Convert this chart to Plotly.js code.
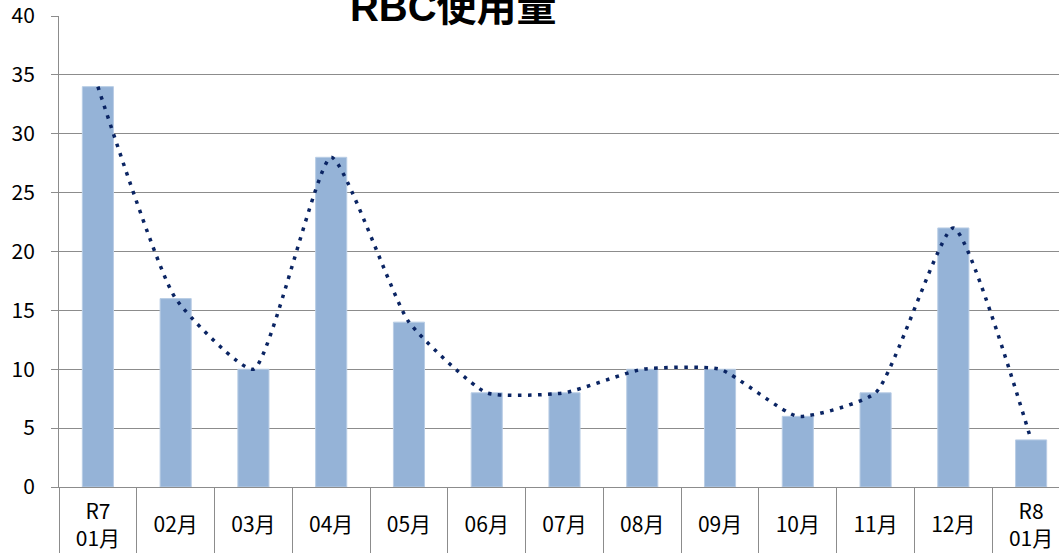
<!DOCTYPE html>
<html>
<head>
<meta charset="utf-8">
<script src="https://cdn.plot.ly/plotly-3.0.1.min.js"></script>
<style>
html,body{margin:0;padding:0;overflow:hidden;background:#fff;width:1059px;height:553px;}
#chart{width:1080px;height:553px;}
</style>
</head>
<body>
<div id="chart"></div>
<script>
const categories = ['R7 01月','02月','03月','04月','05月','06月','07月','08月','09月','10月','11月','12月','R8 01月'];
const values = [34,16,10,28,14,8,8,10,10,6,8,22,4];
const monthTickCats = ['02月','03月','04月','05月','06月','07月','08月','09月','10月','11月','12月'];
const yearTickCats = ['R7 01月','R8 01月'];
const yearLabels = ['R7<br>01月','R8<br>01月'];
const yTicks = [0,5,10,15,20,25,30,35,40];

const tickFont = {family:'Noto Sans CJK JP, Noto Sans, sans-serif', size:21, color:'#000'};
const gridCol = '#8c8c8c';

const traces = [
  {
    type:'bar', x:categories, y:values, xaxis:'x', yaxis:'y',
    width:0.4,
    marker:{color:'#95b3d7', line:{color:'#b9cde5', width:1}},
    hoverinfo:'skip', showlegend:false
  },
  {
    type:'scatter', mode:'lines', x:categories, y:values, xaxis:'x2', yaxis:'y',
    line:{shape:'spline', smoothing:0.5, color:'#0a2463', width:3.5, dash:'3.5px,6.5px'},
    hoverinfo:'skip', showlegend:false
  },
  {
    /* invisible helper so the year-label axis is drawn */
    type:'scatter', mode:'none', x:categories, y:values, xaxis:'x3', yaxis:'y',
    hoverinfo:'skip', showlegend:false
  }
];

const layout = {
  width:1080, height:553,
  margin:{l:59, r:10, t:16, b:66, pad:0},
  paper_bgcolor:'#fff', plot_bgcolor:'#fff',
  showlegend:false,
  bargap:0.6,
  title:{
    text:'<b>RBC使用量</b>',
    font:{family:'Liberation Sans, Noto Sans CJK JP, sans-serif', size:40, color:'#000'},
    xref:'paper', x:0.39, xanchor:'center',
    yref:'container', y:0.987, yanchor:'middle'
  },
  xaxis:{
    type:'category', categoryorder:'array', categoryarray:categories,
    range:[-0.5, 12.5], fixedrange:true,
    tickson:'boundaries', ticks:'outside', ticklen:70, tickwidth:1, tickcolor:gridCol,
    showline:true, linecolor:gridCol, linewidth:1,
    showgrid:false, zeroline:false, showticklabels:false
  },
  xaxis2:{
    type:'category', categoryorder:'array', categoryarray:categories,
    overlaying:'x', anchor:'y', side:'bottom',
    range:[-0.5, 12.5], fixedrange:true,
    tickmode:'array', tickvals:monthTickCats, ticktext:monthTickCats,
    ticks:'', showline:false, showgrid:false, zeroline:false,
    tickfont:tickFont, ticklabelstandoff:23
  },
  xaxis3:{
    type:'category', categoryorder:'array', categoryarray:categories,
    overlaying:'x', anchor:'y', side:'bottom',
    range:[-0.5, 12.5], fixedrange:true,
    tickmode:'array', tickvals:yearTickCats, ticktext:yearLabels,
    ticks:'', showline:false, showgrid:false, zeroline:false,
    tickfont:tickFont, ticklabelstandoff:10
  },
  yaxis:{
    range:[0,40], fixedrange:true,
    tickmode:'array', tickvals:yTicks,
    ticks:'outside', ticklen:7, tickwidth:1, tickcolor:gridCol,
    showline:true, linecolor:gridCol, linewidth:1,
    showgrid:true, gridcolor:gridCol, gridwidth:1,
    zeroline:false, ticklabeloverflow:'allow',
    tickfont:tickFont, ticklabelstandoff:12
  }
};

Plotly.newPlot('chart', traces, layout, {displayModeBar:false, staticPlot:true});
</script>
</body>
</html>
